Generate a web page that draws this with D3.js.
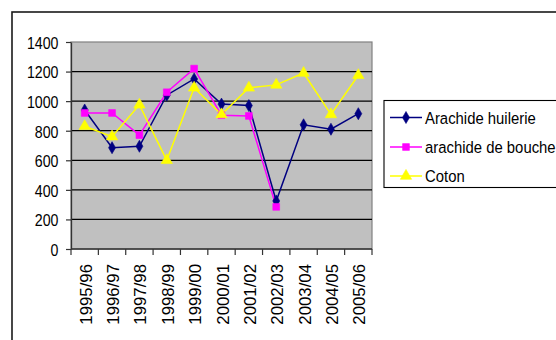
<!DOCTYPE html>
<html>
<head>
<meta charset="utf-8">
<script src="https://cdn.jsdelivr.net/npm/d3@7"></script>
<style>
  html, body { margin: 0; padding: 0; background: #fff; }
  svg { display: block; }
  text { font-family: "Liberation Sans", Arial, sans-serif; fill: #000; }
</style>
</head>
<body>
<svg id="chart" width="556" height="340"></svg>
<script>
// Campaign years
const categories = ["1995/96", "1996/97", "1997/98", "1998/99", "1999/00", "2000/01",
                    "2001/02", "2002/03", "2003/04", "2004/05", "2005/06"];

// Series values (null = no data)
const arachideHuilerie = [940, 685, 695, 1040, 1150, 980, 970, 325, 840, 810, 915];
const arachideBouche   = [920, 920, 770, 1060, 1220, 905, 900, 285, null, null, null];
const coton            = [830, 760, 975, 600, 1090, 910, 1090, 1110, 1190, 910, 1175];

const seriesNames = ["Arachide huilerie", "arachide de bouche", "Coton"];
const yTicks = [0, 200, 400, 600, 800, 1000, 1200, 1400];

const series = [
  { name: seriesNames[0], values: arachideHuilerie, color: "#000080", symbol: d3.symbolDiamond, size: 42 },
  { name: seriesNames[1], values: arachideBouche,   color: "#FF00FF", symbol: d3.symbolSquare,  size: 46 },
  { name: seriesNames[2], values: coton,            color: "#FFFF00", symbol: d3.symbolTriangle, size: 56 }
];

const svg = d3.select("#chart");

const plot = { left: 71, right: 372, top: 42, bottom: 249 };

const x = d3.scaleBand().domain(categories).range([plot.left, plot.right]).padding(0);
const y = d3.scaleLinear().domain([0, 1400]).range([plot.bottom, plot.top]);

// Outer chart frame (runs off the right and bottom edges)
svg.append("rect")
  .attr("x", 12).attr("y", 12)
  .attr("width", 600).attr("height", 400)
  .attr("fill", "none").attr("stroke", "#1a1a1a").attr("stroke-width", 1.6);

// Plot area background
svg.append("rect")
  .attr("x", plot.left).attr("y", plot.top)
  .attr("width", plot.right - plot.left).attr("height", plot.bottom - plot.top)
  .attr("fill", "#C0C0C0")
  .attr("stroke", "#808080").attr("stroke-width", 1.2);

// Horizontal gridlines
svg.append("g").selectAll("line")
  .data(yTicks.filter(t => t > 0 && t < 1400))
  .join("line")
  .attr("x1", plot.left).attr("x2", plot.right)
  .attr("y1", d => y(d)).attr("y2", d => y(d))
  .attr("stroke", "#000").attr("stroke-width", 1.3);

// Y axis
const yAxis = svg.append("g")
  .attr("transform", `translate(${plot.left},0)`)
  .call(d3.axisLeft(y).tickValues(yTicks).tickFormat(d3.format("d")).tickSize(5).tickSizeOuter(0));
yAxis.select(".domain").attr("stroke", "#333").attr("stroke-width", 1.3);
yAxis.selectAll(".tick line").attr("stroke", "#333").attr("stroke-width", 1.2);
yAxis.selectAll(".tick text")
  .attr("x", 0).attr("dy", null)
  .attr("dominant-baseline", "central")
  .attr("text-anchor", "end")
  .attr("transform", "translate(-12.5,0.5) scale(0.87,1)")
  .style("font-size", "16.3px")
  .style("font-family", "Liberation Sans, Arial, sans-serif");

// X axis (tick marks at category boundaries)
const xg = svg.append("g").attr("transform", `translate(0,${plot.bottom})`);
xg.append("line")
  .attr("x1", plot.left).attr("x2", plot.right)
  .attr("stroke", "#333").attr("stroke-width", 1.3);
const bounds = categories.map(c => x(c)).concat([x(categories[categories.length - 1]) + x.bandwidth()]);
xg.selectAll("line.tick")
  .data(bounds)
  .join("line")
  .attr("class", "tick")
  .attr("x1", d => d).attr("x2", d => d)
  .attr("y1", 0).attr("y2", 6)
  .attr("stroke", "#333").attr("stroke-width", 1.2);
xg.selectAll("text")
  .data(categories)
  .join("text")
  .attr("text-anchor", "end")
  .attr("transform", d => `translate(${x(d) + x.bandwidth() / 2 + 7},${264 - plot.bottom}) rotate(-90)`)
  .style("font-size", "16.8px")
  .text(d => d);

// Series lines and markers
const cx = i => x(categories[i]) + x.bandwidth() / 2;
series.forEach(s => {
  const pts = s.values.map((v, i) => ({ v, i })).filter(p => p.v != null);
  const line = d3.line().x(p => cx(p.i)).y(p => y(p.v));
  svg.append("path")
    .datum(pts)
    .attr("d", line)
    .attr("fill", "none")
    .attr("stroke", s.color)
    .attr("stroke-width", 1.5);
});
series.forEach(s => {
  const pts = s.values.map((v, i) => ({ v, i })).filter(p => p.v != null);
  svg.append("g").selectAll("path")
    .data(pts)
    .join("path")
    .attr("d", d3.symbol().type(s.symbol).size(s.size))
    .attr("transform", p => `translate(${cx(p.i)},${y(p.v)})`)
    .attr("fill", s.color)
    .attr("stroke", s.color).attr("stroke-width", 0.6);
});

// Legend
const legend = svg.append("g");
legend.append("rect")
  .attr("x", 384).attr("y", 100.5)
  .attr("width", 200).attr("height", 87)
  .attr("fill", "#fff").attr("stroke", "#000").attr("stroke-width", 1.1);
const rows = [117.5, 147, 176];
series.forEach((s, k) => {
  const g = legend.append("g").attr("transform", `translate(0,${rows[k]})`);
  g.append("line").attr("x1", 390).attr("x2", 422).attr("y1", 0).attr("y2", 0)
    .attr("stroke", s.color).attr("stroke-width", 1.5);
  g.append("path")
    .attr("d", d3.symbol().type(s.symbol).size(s.size))
    .attr("transform", "translate(406,0)")
    .attr("fill", s.color).attr("stroke", s.color).attr("stroke-width", 0.6);
  g.append("text")
    .attr("transform", "translate(425,6.2) scale(0.875,1)")
    .style("font-size", "17px")
    .text(s.name);
});
</script>
</body>
</html>
